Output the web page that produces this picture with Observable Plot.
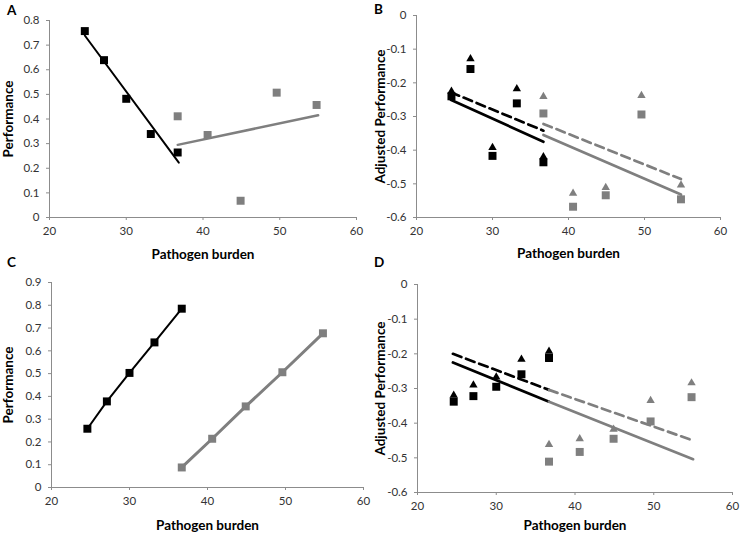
<!DOCTYPE html>
<html>
<head>
<meta charset="utf-8">
<script src="https://cdn.jsdelivr.net/npm/d3@7"></script>
<script src="https://cdn.jsdelivr.net/npm/@observablehq/plot@0.6"></script>
<style>
  html, body { margin: 0; padding: 0; background: #fff; }
  #fig { position: relative; width: 744px; height: 538px; background: #fff; font-family: Lato, "Open Sans", sans-serif; }
  .panel { position: absolute; }
  .letter { position: absolute; font-weight: bold; font-size: 13.5px; color: #000; line-height: 1; }
  #fig svg g[aria-label="x-axis label"] text,
  #fig svg g[aria-label="y-axis label"] text { font-weight: bold; font-size: 13.5px; fill: #000; }
</style>
</head>
<body>
<div id="fig"></div>
<script>
// ---------- data ----------
const xTicks = [20, 30, 40, 50, 60];
const burdenBlack = [24.6, 27.1, 30.0, 33.2, 36.7];
const burdenGrey  = [36.7, 40.6, 44.9, 49.6, 54.8];

// Panel A
const perfA_black = [0.757, 0.639, 0.482, 0.339, 0.264];
const perfA_grey  = [0.411, 0.335, 0.068, 0.507, 0.457];
const fitA_black_x = [24.6, 36.85], fitA_black_y = [0.739, 0.223];
const fitA_grey_x  = [36.7, 55.0],  fitA_grey_y  = [0.295, 0.415];
const yTicksA = [0, 0.1, 0.2, 0.3, 0.4, 0.5, 0.6, 0.7, 0.8];

// Panel B
const adjB_blackSq  = [-0.240, -0.159, -0.417, -0.261, -0.436];
const adjB_blackTri = [-0.225, -0.129, -0.392, -0.218, -0.420];
const adjB_greySq   = [-0.291, -0.568, -0.534, -0.294, -0.546];
const adjB_greyTri  = [-0.241, -0.528, -0.511, -0.238, -0.504];
const fitB_black_x = [24.5, 36.7];
const fitB_blackSolid_y  = [-0.250, -0.375];
const fitB_blackDashed_y = [-0.228, -0.342];
const fitB_grey_x = [36.7, 54.8];
const fitB_greySolid_y  = [-0.355, -0.532];
const fitB_greyDashed_y = [-0.322, -0.486];

// Panel C
const perfC_black = [0.258, 0.378, 0.503, 0.637, 0.785];
const perfC_grey  = [0.088, 0.214, 0.356, 0.506, 0.677];
const yTicksC = [0, 0.1, 0.2, 0.3, 0.4, 0.5, 0.6, 0.7, 0.8, 0.9];

// Panel D
const adjD_blackSq  = [-0.338, -0.322, -0.295, -0.259, -0.212];
const adjD_blackTri = [-0.320, -0.290, -0.267, -0.216, -0.193];
const adjD_greySq   = [-0.511, -0.483, -0.445, -0.395, -0.325];
const adjD_greyTri  = [-0.462, -0.445, -0.418, -0.335, -0.284];
const fitD_black_x = [24.5, 36.7];
const fitD_blackSolid_y  = [-0.225, -0.338];
const fitD_blackDashed_y = [-0.200, -0.304];
const fitD_grey_x = [36.7, 55.0];
const fitD_greySolid_y  = [-0.338, -0.504];
const fitD_greyDashed_y = [-0.304, -0.450];

const yTicksAdj = [0, -0.1, -0.2, -0.3, -0.4, -0.5, -0.6];

// ---------- styles ----------
const BLACK = "#000000";
const GREY = "#7f7f7f";
const AXIS = "#8c8c8c";
const SQ_R = 4.5;
const TRI_R = 3.1;

const pts = (xs, ys) => xs.map((x, i) => ({x, y: ys[i]}));
const fmt = d => String(Math.round(d * 10) / 10);

function basePlot(cfg, marks) {
  return Plot.plot({
    width: 372,
    height: cfg.height,
    marginLeft: cfg.ml, marginRight: cfg.mr, marginTop: cfg.mt, marginBottom: cfg.mb,
    style: {fontFamily: 'Lato, "Open Sans", sans-serif', fontSize: "11.5px", color: "#333", background: "transparent", overflow: "visible"},
    x: {domain: [20, 60]},
    y: {domain: cfg.yDomain},
    marks: [
      Plot.ruleY([cfg.yDomain[0]], {stroke: AXIS, strokeWidth: 1}),
      Plot.ruleX([20], {stroke: AXIS, strokeWidth: 1}),
      Plot.axisX({ticks: xTicks, tickSize: 3, tickPadding: 6, stroke: AXIS, fill: "#333",
                  label: "Pathogen burden", labelAnchor: "center", labelArrow: "none"}),
      Plot.axisY({ticks: cfg.yTicks, tickSize: 3, tickPadding: 7, tickFormat: fmt, stroke: AXIS, fill: "#333",
                  label: cfg.yLabel, labelAnchor: "center", labelArrow: "none"}),
      ...marks
    ]
  });
}

const fig = document.getElementById("fig");
function place(node, left, top) {
  const d = document.createElement("div");
  d.className = "panel";
  d.style.left = left + "px"; d.style.top = top + "px";
  d.appendChild(node);
  fig.appendChild(d);
}
function letter(t, left, top) {
  const d = document.createElement("div");
  d.className = "letter"; d.textContent = t;
  d.style.left = left + "px"; d.style.top = top + "px";
  fig.appendChild(d);
}

// Panel A
place(basePlot(
  {height: 261, ml: 49, mr: 16, mt: 20, mb: 44, yDomain: [0, 0.8], yTicks: yTicksA, yLabel: "Performance"},
  [
    Plot.line(pts(fitA_black_x, fitA_black_y), {x: "x", y: "y", stroke: BLACK, strokeWidth: 2}),
    Plot.line(pts(fitA_grey_x, fitA_grey_y), {x: "x", y: "y", stroke: GREY, strokeWidth: 2.5}),
    Plot.dot(pts(burdenBlack, perfA_black), {x: "x", y: "y", symbol: "square", r: SQ_R, fill: BLACK}),
    Plot.dot(pts(burdenGrey, perfA_grey), {x: "x", y: "y", symbol: "square", r: SQ_R, fill: GREY})
  ]), 0, 0);

// Panel B
place(basePlot(
  {height: 260, ml: 44, mr: 24, mt: 15, mb: 43, yDomain: [-0.6, 0], yTicks: yTicksAdj, yLabel: "Adjusted Performance"},
  [
    Plot.line(pts(fitB_black_x, fitB_blackSolid_y), {x: "x", y: "y", stroke: BLACK, strokeWidth: 2.7}),
    Plot.line(pts(fitB_black_x, fitB_blackDashed_y), {x: "x", y: "y", stroke: BLACK, strokeWidth: 2.7, strokeDasharray: "9,5"}),
    Plot.line(pts(fitB_grey_x, fitB_greySolid_y), {x: "x", y: "y", stroke: GREY, strokeWidth: 2.7}),
    Plot.line(pts(fitB_grey_x, fitB_greyDashed_y), {x: "x", y: "y", stroke: GREY, strokeWidth: 2.7, strokeDasharray: "9,5"}),
    Plot.dot(pts(burdenBlack, adjB_blackTri), {x: "x", y: "y", symbol: "triangle", r: TRI_R, fill: BLACK}),
    Plot.dot(pts(burdenGrey, adjB_greyTri), {x: "x", y: "y", symbol: "triangle", r: TRI_R, fill: GREY}),
    Plot.dot(pts(burdenBlack, adjB_blackSq), {x: "x", y: "y", symbol: "square", r: SQ_R, fill: BLACK}),
    Plot.dot(pts(burdenGrey, adjB_greySq), {x: "x", y: "y", symbol: "square", r: SQ_R, fill: GREY})
  ]), 372, 0);

// Panel C
place(basePlot(
  {height: 263, ml: 51, mr: 9, mt: 13, mb: 45, yDomain: [0, 0.9], yTicks: yTicksC, yLabel: "Performance"},
  [
    Plot.line(pts(burdenBlack, perfC_black), {x: "x", y: "y", stroke: BLACK, strokeWidth: 2}),
    Plot.line(pts(burdenGrey, perfC_grey), {x: "x", y: "y", stroke: GREY, strokeWidth: 3}),
    Plot.dot(pts(burdenBlack, perfC_black), {x: "x", y: "y", symbol: "square", r: SQ_R, fill: BLACK}),
    Plot.dot(pts(burdenGrey, perfC_grey), {x: "x", y: "y", symbol: "square", r: SQ_R, fill: GREY})
  ]), 0, 269);

// Panel D
place(basePlot(
  {height: 263, ml: 45, mr: 12, mt: 15, mb: 40, yDomain: [-0.6, 0], yTicks: yTicksAdj, yLabel: "Adjusted Performance"},
  [
    Plot.line(pts(fitD_black_x, fitD_blackSolid_y), {x: "x", y: "y", stroke: BLACK, strokeWidth: 2.7}),
    Plot.line(pts(fitD_black_x, fitD_blackDashed_y), {x: "x", y: "y", stroke: BLACK, strokeWidth: 2.7, strokeDasharray: "9,5"}),
    Plot.line(pts(fitD_grey_x, fitD_greySolid_y), {x: "x", y: "y", stroke: GREY, strokeWidth: 2.7}),
    Plot.line(pts(fitD_grey_x, fitD_greyDashed_y), {x: "x", y: "y", stroke: GREY, strokeWidth: 2.7, strokeDasharray: "9,5"}),
    Plot.dot(pts(burdenBlack, adjD_blackTri), {x: "x", y: "y", symbol: "triangle", r: TRI_R, fill: BLACK}),
    Plot.dot(pts(burdenGrey, adjD_greyTri), {x: "x", y: "y", symbol: "triangle", r: TRI_R, fill: GREY}),
    Plot.dot(pts(burdenBlack, adjD_blackSq), {x: "x", y: "y", symbol: "square", r: SQ_R, fill: BLACK}),
    Plot.dot(pts(burdenGrey, adjD_greySq), {x: "x", y: "y", symbol: "square", r: SQ_R, fill: GREY})
  ]), 372, 269);

letter("A", 7, 4);
letter("B", 374, 3);
letter("C", 7, 256);
letter("D", 374, 256);
</script>
</body>
</html>
